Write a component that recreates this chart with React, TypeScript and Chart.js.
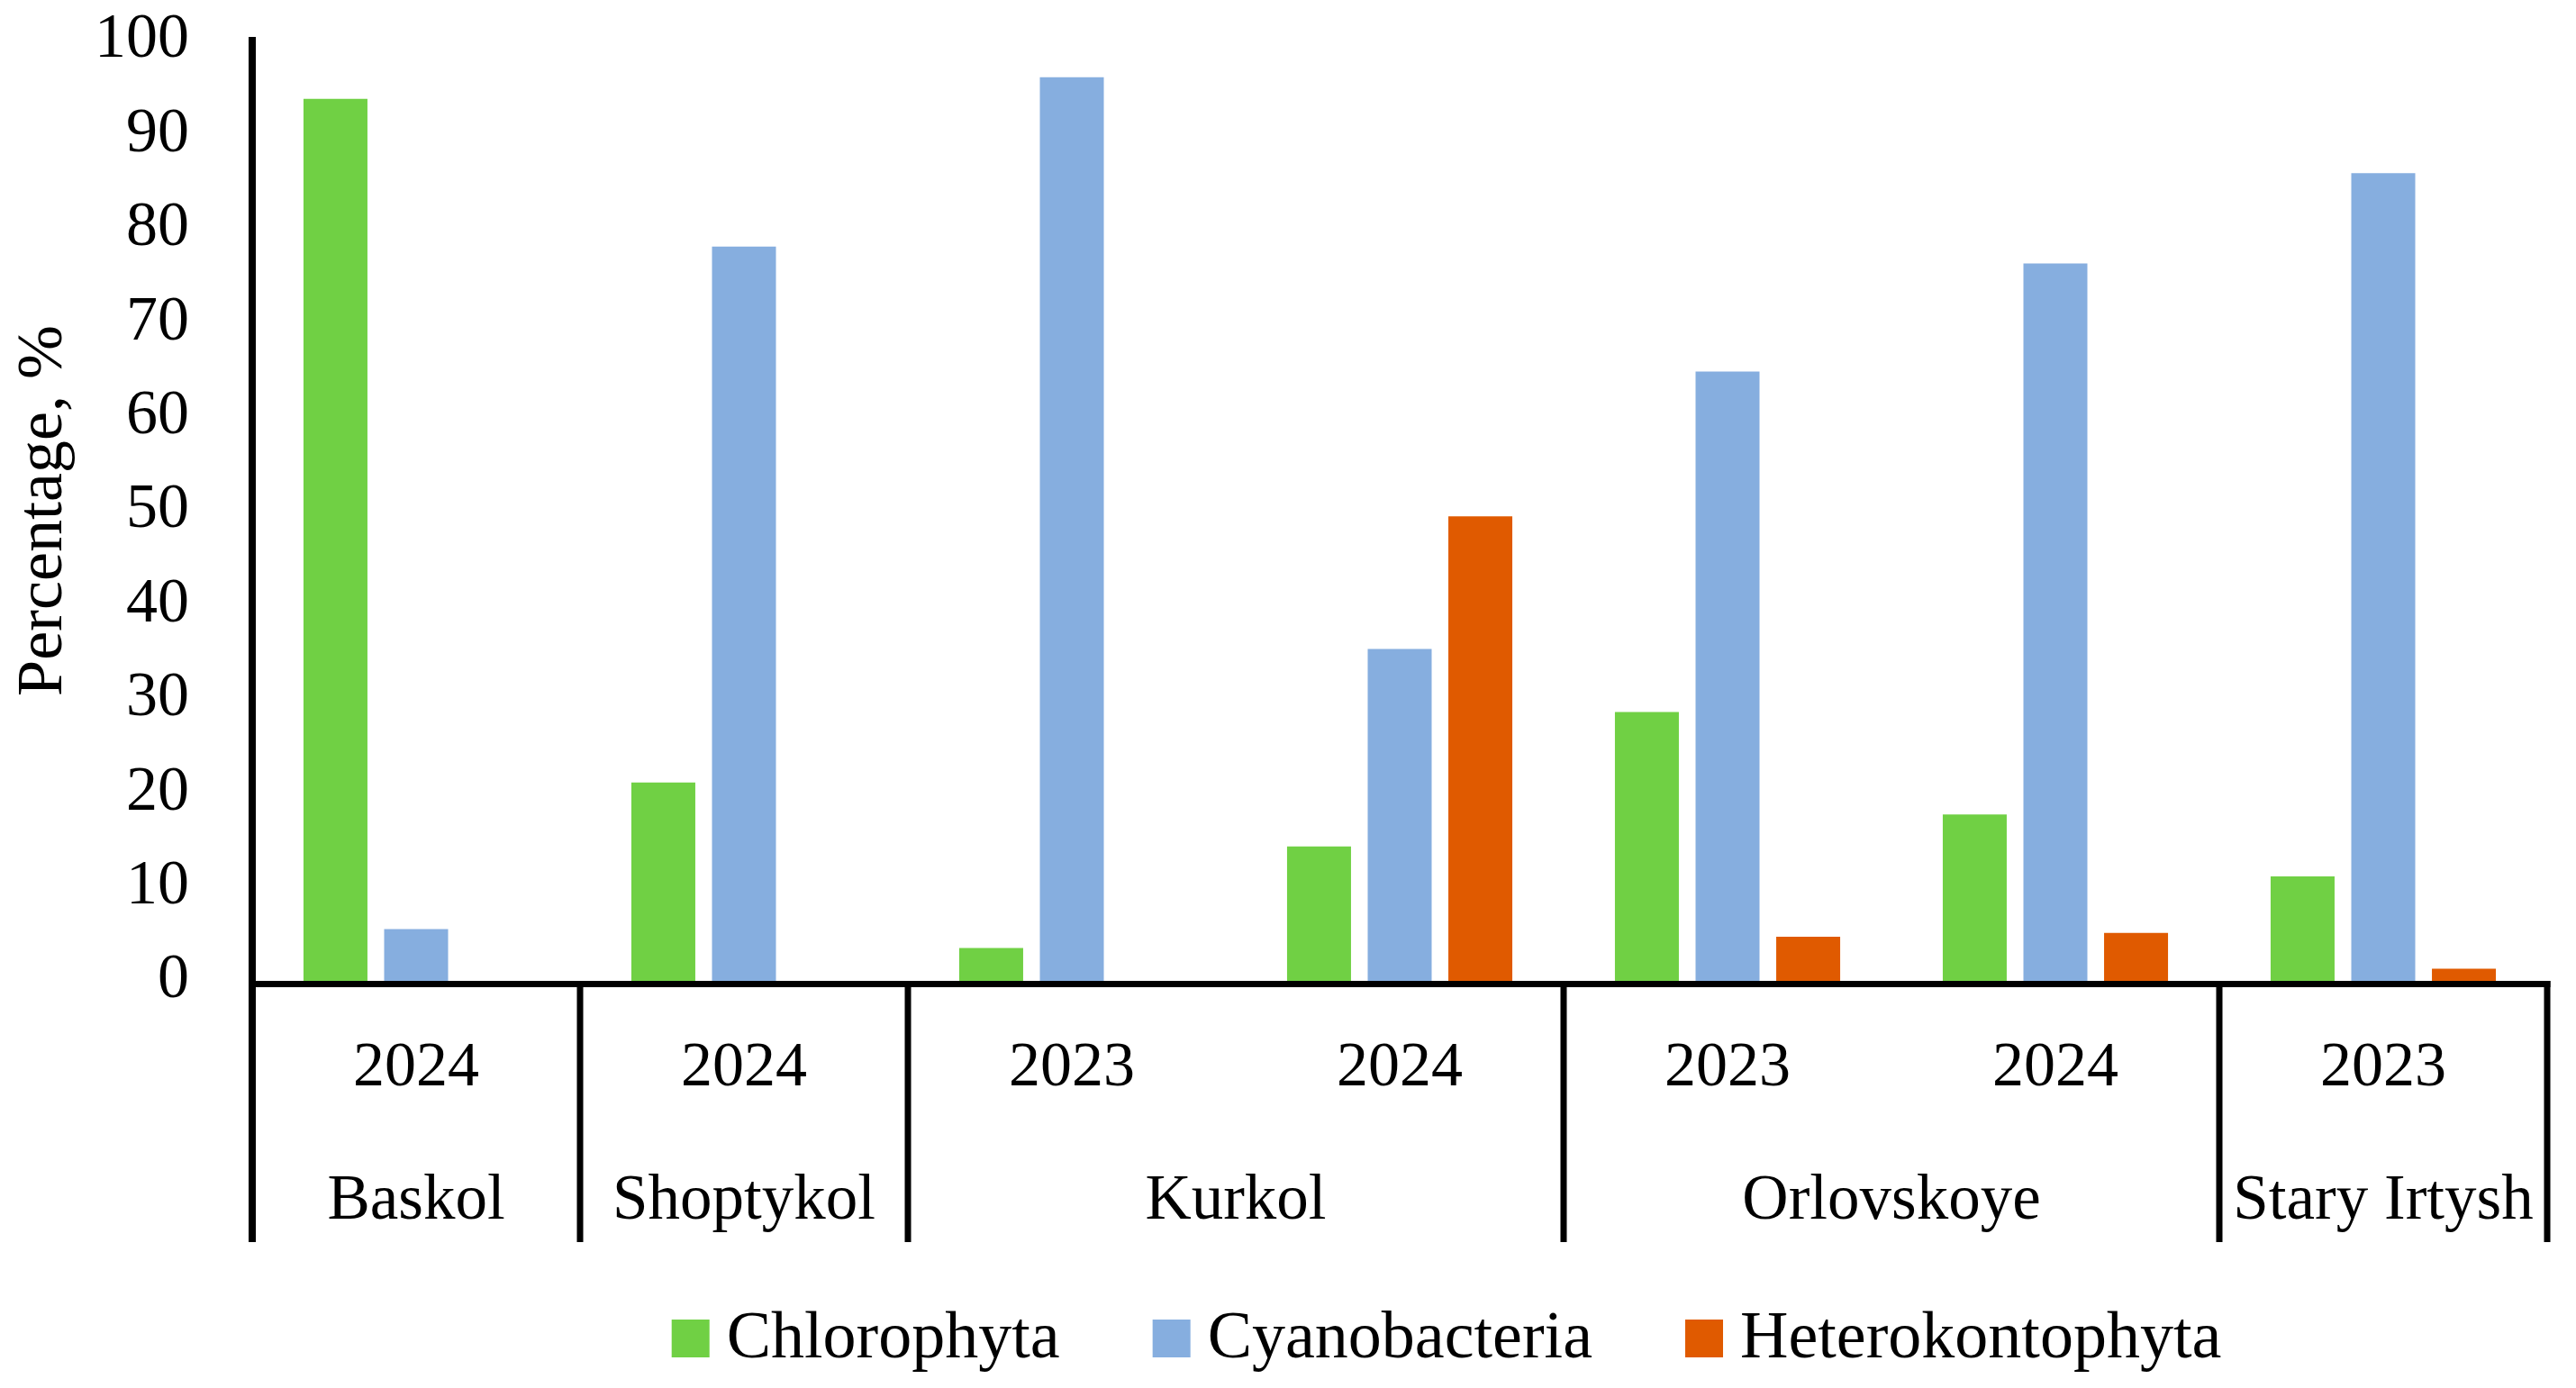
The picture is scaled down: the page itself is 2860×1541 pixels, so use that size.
import React, { useEffect, useRef } from 'react';
import { Chart, registerables } from 'chart.js';

Chart.register(...registerables);

// ---- data ----
const years = ['2024', '2024', '2023', '2024', '2023', '2024', '2023'];
const locations = ['Baskol', 'Shoptykol', 'Kurkol', 'Orlovskoye', 'Stary Irtysh'];
const locationSpans = [1, 1, 2, 2, 1];
const chlorophyta = [93.8, 21.1, 3.5, 14.3, 28.6, 17.7, 11.1];
const cyanobacteria = [5.5, 78.1, 96.1, 35.3, 64.8, 76.3, 85.9];
const heterokontophyta = [null, null, null, 49.4, 4.7, 5.1, 1.3];
const seriesNames = ['Chlorophyta', 'Cyanobacteria', 'Heterokontophyta'];
const yTitle = 'Percentage, %';

const FONT = "'Liberation Serif', 'Times New Roman', serif";
const COLORS = ['#70D044', '#86AEDF', '#E05A00'];

export default function App() {
  const ref = useRef<HTMLCanvasElement>(null);

  useEffect(() => {
    document.body.style.margin = '0';
    document.body.style.overflow = 'hidden';
    const canvas = ref.current!;

    const groupPlugin = {
      id: 'groupsAndLegend',
      afterDraw(chart: any) {
        const { ctx, chartArea } = chart;
        const xs = chart.scales.x;
        const n = years.length;
        const centers = years.map((_, i) => xs.getPixelForValue(i));
        const boundary = (i: number) =>
          i === 0 ? xs.left : i === n ? xs.right : (centers[i - 1] + centers[i]) / 2;
        const axisTop = chartArea.bottom;
        ctx.save();
        ctx.fillStyle = '#000';
        // x axis line
        ctx.fillRect(xs.left - 4, axisTop, xs.right - xs.left + 7.5, 7);
        // separators
        const cuts = [0];
        let acc = 0;
        locationSpans.forEach((s) => {
          acc += s;
          cuts.push(acc);
        });
        const sepBottom = axisTop + 290;
        cuts.forEach((c, k) => {
          const x = boundary(c);
          const w = k === 0 ? 8 : 7;
          ctx.fillRect(x - w / 2, axisTop, w, sepBottom - axisTop);
        });
        // location labels
        ctx.font = `71px ${FONT}`;
        ctx.textAlign = 'center';
        ctx.textBaseline = 'alphabetic';
        for (let g = 0; g < locations.length; g++) {
          const x0 = boundary(cuts[g]);
          const x1 = boundary(cuts[g + 1]);
          ctx.fillText(locations[g], (x0 + x1) / 2, axisTop + 264);
        }
        // legend
        const box = 42;
        const gapText = 19;
        const gapItem = 103;
        ctx.font = `74px ${FONT}`;
        const dsets = chart.data.datasets;
        const widths = dsets.map((d: any) => ctx.measureText(d.label).width);
        const total =
          widths.reduce((a: number, b: number) => a + b + box + gapText, 0) +
          gapItem * (dsets.length - 1);
        let x = 1606 - total / 2;
        const boxTop = 1465;
        const baseline = 1507;
        ctx.textAlign = 'left';
        dsets.forEach((d: any, i: number) => {
          ctx.fillStyle = d.backgroundColor;
          ctx.fillRect(x, boxTop, box, box);
          ctx.fillStyle = '#000';
          ctx.fillText(d.label, x + box + gapText, baseline);
          x += box + gapText + widths[i] + gapItem;
        });
        ctx.restore();
      },
    };

    const chart = new Chart(canvas, {
      type: 'bar',
      data: {
        labels: years,
        datasets: [
          { label: seriesNames[0], data: chlorophyta, backgroundColor: COLORS[0] },
          { label: seriesNames[1], data: cyanobacteria, backgroundColor: COLORS[1] },
          { label: seriesNames[2], data: heterokontophyta as any, backgroundColor: COLORS[2] },
        ].map((d) => ({ ...d, borderWidth: 0, categoryPercentage: 0.738, barPercentage: 0.793 })),
      },
      options: {
        responsive: false,
        animation: false,
        devicePixelRatio: 1,
        layout: { padding: { top: 45, right: 32, left: 0, bottom: 0 } },
        plugins: { legend: { display: false }, tooltip: { enabled: false } },
        scales: {
          x: {
            grid: { display: false, drawTicks: false },
            border: { display: false },
            ticks: {
              color: '#000',
              font: { family: FONT, size: 70 },
              padding: 56,
              maxRotation: 0,
              autoSkip: false,
            },
            afterFit: (s: any) => {
              s.height = 452;
              s.paddingLeft = 0;
              s.paddingRight = 0;
            },
          },
          y: {
            min: 0,
            max: 100,
            ticks: {
              stepSize: 10,
              color: '#000',
              font: { family: FONT, size: 70 },
              padding: 70,
            },
            grid: { display: false, drawTicks: false },
            border: { display: true, color: '#000', width: 8 },
            title: {
              display: true,
              text: yTitle,
              color: '#000',
              font: { family: FONT, size: 72 },
              padding: { top: 6, bottom: 0 },
            },
            afterFit: (s: any) => {
              s.width = 280;
              s.paddingTop = 0;
              s.paddingBottom = 0;
            },
          },
        },
      },
      plugins: [groupPlugin],
    });
    return () => chart.destroy();
  }, []);

  return (
    <div style={{ width: 2860, height: 1541, background: '#fff' }}>
      <canvas ref={ref} width={2860} height={1541} style={{ display: 'block' }} />
    </div>
  );
}
